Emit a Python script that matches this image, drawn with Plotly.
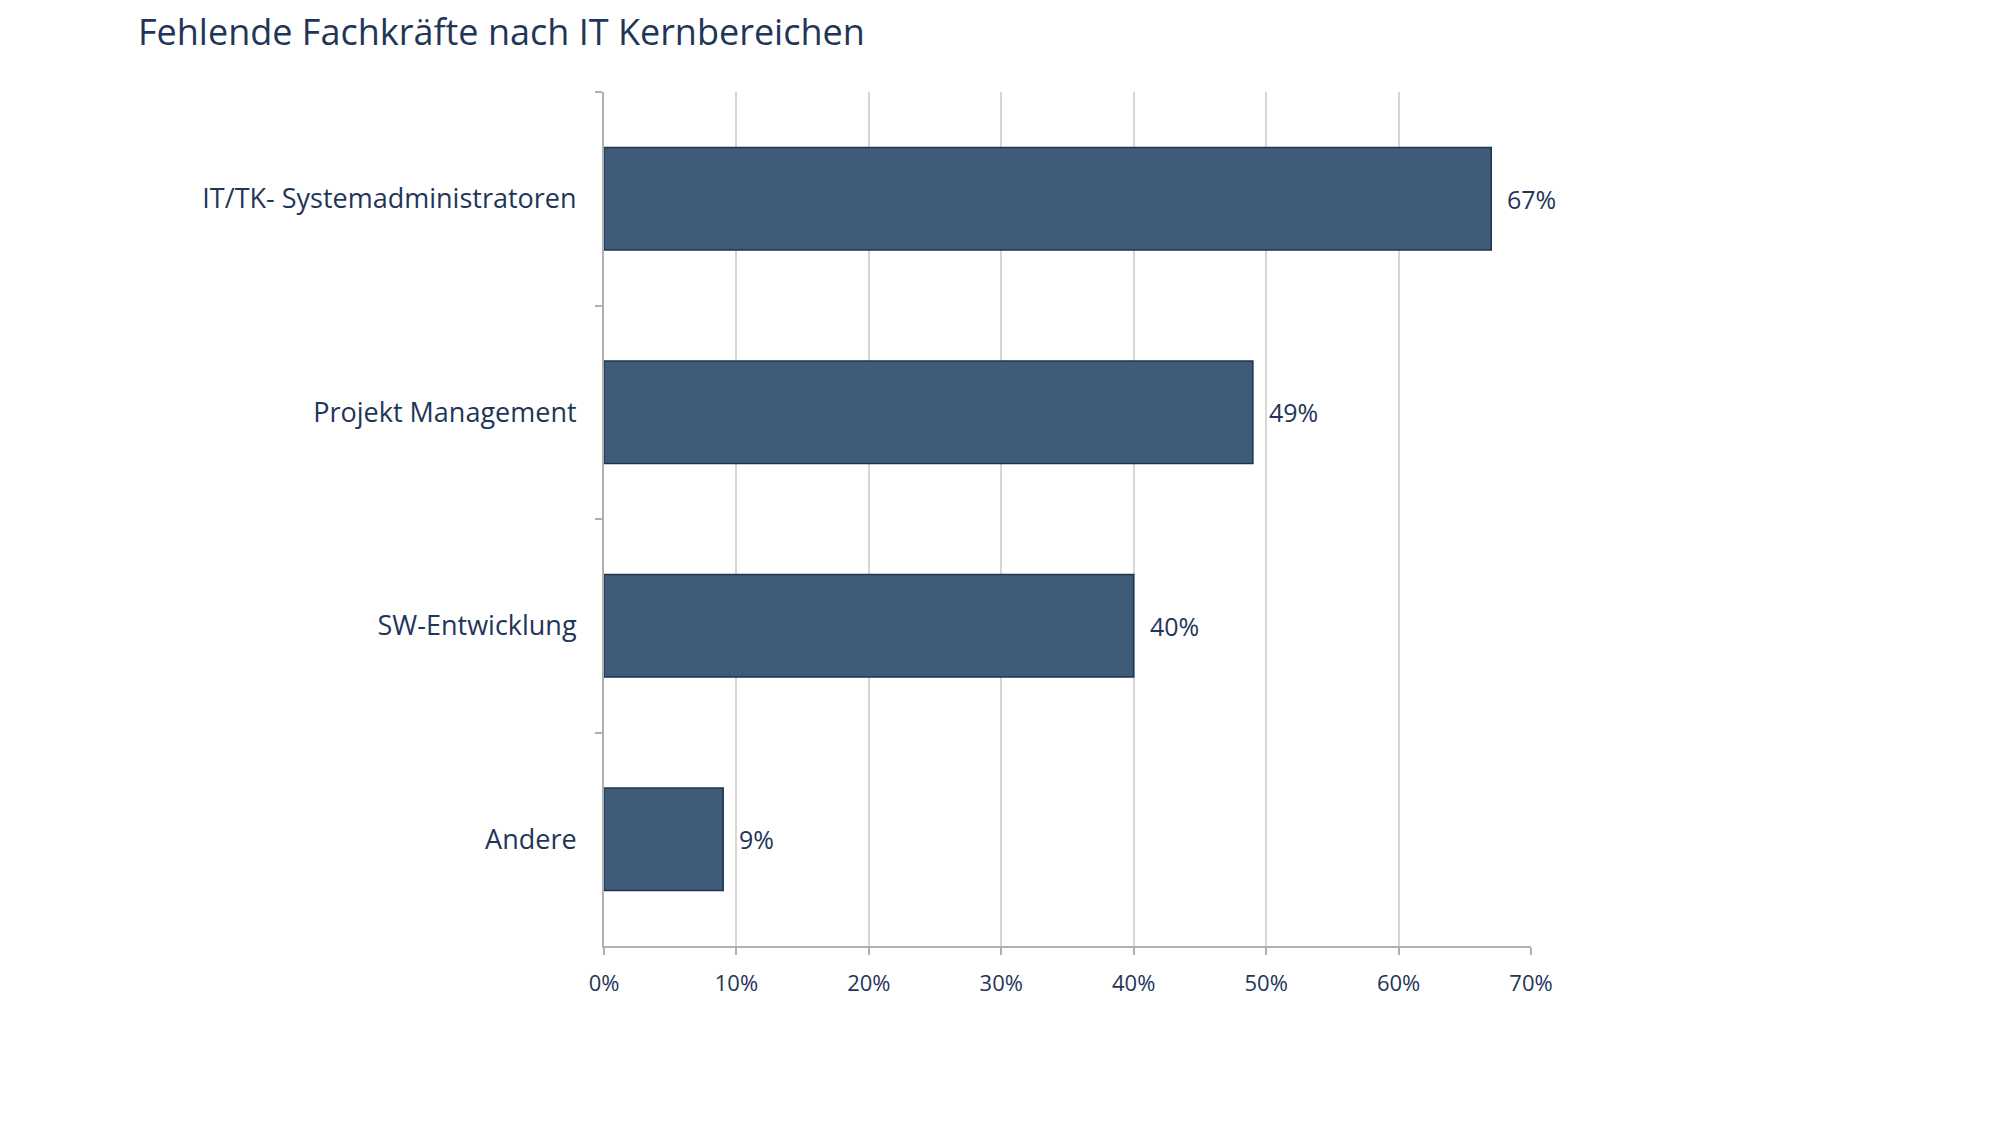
import plotly.graph_objects as go

categories = ["IT/TK- Systemadministratoren", "Projekt Management", "SW-Entwicklung", "Andere"]
values = [67, 49, 40, 9]
value_labels = ["67%", "49%", "40%", "9%"]
x_ticks = [0, 10, 20, 30, 40, 50, 60, 70]
x_tick_labels = ["0%", "10%", "20%", "30%", "40%", "50%", "60%", "70%"]

TEXT = "#1f3658"
FONT = "Open Sans, sans-serif"

fig = go.Figure()
fig.add_trace(go.Bar(
    x=values, y=categories, orientation="h",
    width=0.48,
    marker=dict(color="#3e5b79", line=dict(color="#1e3450", width=1.5)),
    hoverinfo="skip",
))

for c, v, lab in zip(categories, values, value_labels):
    fig.add_annotation(x=v, y=c, text=lab, showarrow=False, xanchor="left",
                       xshift=14, font=dict(size=25, color=TEXT, family=FONT))

fig.update_layout(
    width=2000, height=1124,
    margin=dict(l=604, r=469, t=92, b=178),
    paper_bgcolor="white", plot_bgcolor="white",
    showlegend=False,
    title=dict(text="Fehlende Fachkräfte nach IT Kernbereichen", x=138/2000, xanchor="left",
               y=1-32/1124, yanchor="middle",
               font=dict(size=36, color=TEXT, family=FONT)),
    xaxis=dict(range=[0, 70], tickvals=x_ticks, ticktext=x_tick_labels,
               showgrid=True, gridcolor="#d6d6d6", gridwidth=2,
               showline=True, linecolor="#b0b0b0", linewidth=2,
               ticks="outside", ticklen=7, tickcolor="#b0b0b0", tickwidth=2,
               ticklabelstandoff=10,
               tickfont=dict(size=22, color=TEXT, family=FONT),
               zeroline=False, fixedrange=True),
    yaxis=dict(autorange="reversed", showline=True, linecolor="#b0b0b0", linewidth=2,
               ticks="outside", tickson="boundaries", ticklen=7, tickcolor="#b0b0b0", tickwidth=2,
               ticklabelstandoff=20,
               tickfont=dict(size=27, color=TEXT, family=FONT),
               showgrid=False, fixedrange=True),
)

fig.write_html("out.html")
